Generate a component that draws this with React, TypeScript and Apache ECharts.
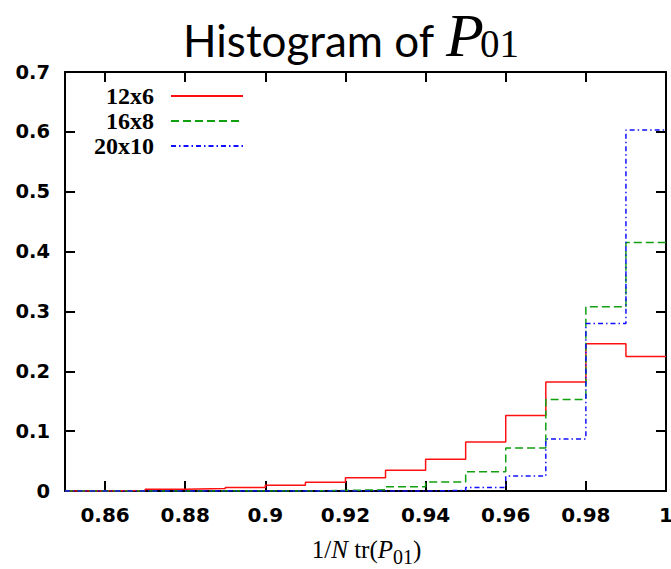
import React, { useEffect, useRef } from 'react';
import * as echarts from 'echarts';

// Histogram bin left edges (bin width 0.01), and the right end of the last bin
const binEdges = [0.85, 0.86, 0.87, 0.88, 0.89, 0.9, 0.91, 0.92, 0.93, 0.94, 0.95, 0.96, 0.97, 0.98, 0.99];
const lastEdge = 1.0;

// Bin heights
const lattice12x6 = [0, 0.001, 0.003, 0.004, 0.006, 0.0095, 0.0145, 0.022, 0.0345, 0.053, 0.082, 0.126, 0.182, 0.246, 0.2245];
const lattice16x8 = [0, 0, 0, 0, 0, 0, 0.001, 0.002, 0.007, 0.015, 0.032, 0.072, 0.153, 0.308, 0.415];
const lattice20x10 = [0, 0, 0, 0, 0, 0, 0, 0, 0, 0.001, 0.006, 0.025, 0.087, 0.28, 0.603];

const seriesNames = ['12x6', '16x8', '20x10'];
const xTicks = [0.86, 0.88, 0.9, 0.92, 0.94, 0.96, 0.98, 1];

function toSteps(vals: number[]) {
  const pts: number[][] = binEdges.map((e, i) => [e, vals[i]]);
  pts.push([lastEdge, vals[vals.length - 1]]);
  return pts;
}

export default function App() {
  const ref = useRef<HTMLDivElement>(null);
  useEffect(() => {
    if (!ref.current) return;
    const chart = echarts.init(ref.current, null, { renderer: 'svg' });
    const axisLine = { show: true, onZero: false, lineStyle: { color: '#000', width: 2 } };
    const tickLbl = { fontFamily: 'DejaVu Sans', fontWeight: 'bold', fontSize: 20, color: '#000' };
    const xBase = {
      type: 'value',
      min: 0.85,
      max: 1.0,
      axisLine,
      splitLine: { show: false },
      axisTick: { show: true, inside: true, length: 10, customValues: xTicks, lineStyle: { color: '#000', width: 2 } },
    };
    const yBase = {
      type: 'value',
      min: 0,
      max: 0.7,
      interval: 0.1,
      axisLine,
      splitLine: { show: false },
      axisTick: { show: true, inside: true, length: 10, lineStyle: { color: '#000', width: 2 } },
    };
    const serif = 'Liberation Serif';
    chart.setOption({
      animation: false,
      backgroundColor: '#fff',
      grid: { left: 65, right: 5, top: 72, bottom: 78, containLabel: false, outerBoundsMode: 'none' },
      xAxis: [
        {
          ...xBase,
          position: 'bottom',
          axisLabel: { ...tickLbl, customValues: xTicks, margin: 14 },
        },
        { ...xBase, position: 'top', axisLabel: { show: false } },
      ],
      yAxis: [
        {
          ...yBase,
          position: 'left',
          axisLabel: { ...tickLbl, fontSize: 19.5, margin: 15 },
        },
        { ...yBase, position: 'right', axisLabel: { show: false } },
      ],
      legend: {
        orient: 'vertical',
        align: 'right',
        left: 94,
        top: 84,
        padding: 0,
        itemWidth: 72,
        itemHeight: 14,
        itemGap: 1,
        itemStyle: { color: 'rgba(0,0,0,0)', borderColor: 'rgba(0,0,0,0)', borderWidth: 0, opacity: 0 },
        formatter: '{t|{name}}',
        textStyle: {
          color: '#000',
          rich: {
            t: { fontFamily: serif, fontSize: 24, fontWeight: 'bold', lineHeight: 24, color: '#000', padding: [0, 12, 0, 0] },
          },
        },
        data: seriesNames,
      },
      series: [
        {
          name: seriesNames[0],
          type: 'line',
          step: 'end',
          symbol: 'none',
          data: toSteps(lattice12x6),
          itemStyle: { color: '#ff1010' },
          lineStyle: { color: '#ff1010', width: 1.5, type: 'solid' },
        },
        {
          name: seriesNames[1],
          type: 'line',
          step: 'end',
          symbol: 'none',
          data: toSteps(lattice16x8),
          itemStyle: { color: '#10a010' },
          lineStyle: { color: '#10a010', width: 1.5, type: [8, 4] },
        },
        {
          name: seriesNames[2],
          type: 'line',
          step: 'end',
          symbol: 'none',
          data: toSteps(lattice20x10),
          itemStyle: { color: '#1010ff' },
          lineStyle: { color: '#1010ff', width: 1.5, type: [5, 3, 1.5, 3] },
        },
      ],
      graphic: [
        {
          type: 'text',
          x: 183,
          y: 40,
          style: { text: 'Histogram of', font: '44px Lato', fill: '#000', textVerticalAlign: 'middle', verticalAlign: 'middle' },
        },
        {
          type: 'text',
          x: 446,
          y: 35,
          style: { text: 'P', font: 'italic 62px "Liberation Serif"', fill: '#000', textVerticalAlign: 'middle', verticalAlign: 'middle' },
        },
        {
          type: 'text',
          x: 480,
          y: 43,
          style: { text: '01', font: '39px "Liberation Serif"', fill: '#000', textVerticalAlign: 'middle', verticalAlign: 'middle' },
        },
        {
          type: 'text',
          x: 393,
          y: 549,
          style: {
            text: '{n|1/}{i|N}{n| tr(}{i|P}',
            textAlign: 'right',
            align: 'right',
            textVerticalAlign: 'middle',
            verticalAlign: 'middle',
            fill: '#000',
            rich: {
              n: { fontFamily: serif, fontSize: 25, fill: '#000' },
              i: { fontFamily: serif, fontSize: 25, fontStyle: 'italic', fill: '#000' },
            },
          },
        },
        {
          type: 'text',
          x: 393,
          y: 557,
          style: { text: '01', font: '20px "Liberation Serif"', fill: '#000', textVerticalAlign: 'middle', verticalAlign: 'middle' },
        },
        {
          type: 'text',
          x: 413,
          y: 549,
          style: { text: ')', font: '25px "Liberation Serif"', fill: '#000', textVerticalAlign: 'middle', verticalAlign: 'middle' },
        },
      ],
    });
    return () => chart.dispose();
  }, []);
  return <div ref={ref} style={{ width: 671, height: 569, position: 'fixed', left: 0, top: 0 }} />;
}
